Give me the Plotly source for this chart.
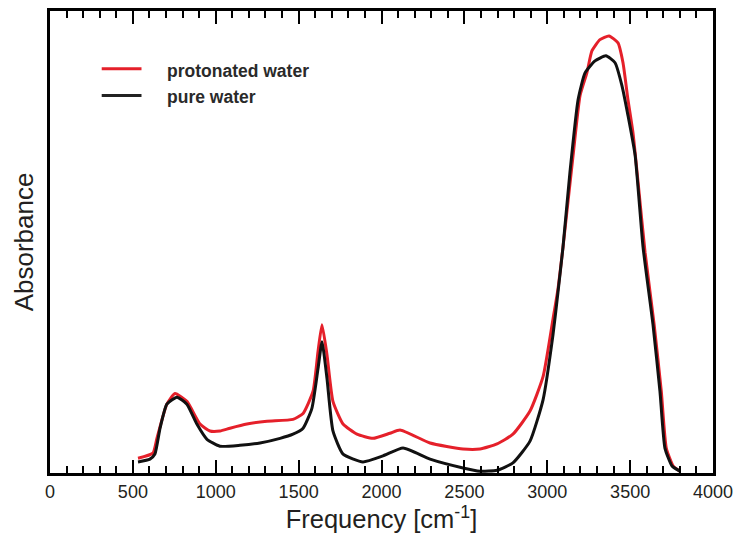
import plotly.graph_objects as go

# Frequency (cm^-1) and absorbance (normalized)
freq_prot = [531, 621, 645, 705, 754, 826, 905, 965, 1026, 1086, 1188, 1309, 1466, 1527,
             1587, 1617, 1641, 1671, 1707, 1768, 1852, 1949, 2051, 2112, 2293, 2492, 2594,
             2697, 2793, 2896, 2975, 3035, 3065, 3095, 3156, 3198, 3239, 3270, 3318, 3373,
             3427, 3457, 3487, 3517, 3548, 3590, 3645, 3688, 3718, 3760, 3800]
abs_prot = [0.032, 0.043, 0.075, 0.149, 0.172, 0.155, 0.106, 0.091, 0.091, 0.097, 0.106,
            0.112, 0.116, 0.129, 0.177, 0.263, 0.321, 0.256, 0.155, 0.106, 0.084, 0.075,
            0.086, 0.093, 0.065, 0.052, 0.052, 0.063, 0.084, 0.134, 0.209, 0.334, 0.399,
            0.489, 0.688, 0.817, 0.866, 0.914, 0.938, 0.946, 0.931, 0.888, 0.808, 0.737,
            0.629, 0.478, 0.321, 0.177, 0.054, 0.015, 0.004]

freq_pure = [531, 603, 633, 664, 705, 766, 826, 886, 947, 1025, 1146, 1267, 1388, 1466,
             1527, 1580, 1617, 1641, 1671, 1707, 1768, 1888, 2009, 2130, 2293, 2492, 2594,
             2697, 2793, 2896, 2975, 3035, 3065, 3095, 3137, 3186, 3228, 3288, 3354, 3409,
             3451, 3487, 3530, 3578, 3638, 3680, 3710, 3753, 3800]
abs_pure = [0.024, 0.030, 0.041, 0.097, 0.149, 0.164, 0.149, 0.106, 0.073, 0.058, 0.060,
            0.065, 0.075, 0.084, 0.097, 0.140, 0.226, 0.284, 0.205, 0.091, 0.041, 0.024,
            0.037, 0.054, 0.030, 0.011, 0.004, 0.006, 0.022, 0.069, 0.159, 0.300, 0.392,
            0.489, 0.651, 0.808, 0.866, 0.892, 0.903, 0.888, 0.838, 0.774, 0.688, 0.489,
            0.321, 0.177, 0.054, 0.015, 0.004]

x_ticks = [0, 500, 1000, 1500, 2000, 2500, 3000, 3500, 4000]
x_minor_step = 100
series_names = ["protonated water", "pure water"]

RED = "#e5202a"
BLACK = "#111111"
TEXT = "#231f20"
FONT = "Liberation Sans, Arial, sans-serif"

fig = go.Figure()
fig.add_trace(go.Scatter(x=freq_prot, y=abs_prot, mode="lines", name=series_names[0],
                         line=dict(color=RED, width=3, shape="spline", smoothing=0.5),
                         showlegend=False))
fig.add_trace(go.Scatter(x=freq_pure, y=abs_pure, mode="lines", name=series_names[1],
                         line=dict(color=BLACK, width=3, shape="spline", smoothing=0.5),
                         showlegend=False))

shapes = []
annotations = []

# legend (line samples + bold labels) in paper coordinates
legend_colors = [RED, "#222222"]
legend_y = [0.875, 0.817]
for name, col, ly in zip(series_names, legend_colors, legend_y):
    shapes.append(dict(type="line", xref="paper", yref="paper", x0=0.078, x1=0.138,
                       y0=ly, y1=ly, line=dict(color=col, width=3)))
    annotations.append(dict(xref="paper", yref="paper", x=0.173, y=ly - 0.004,
                            xanchor="left", yanchor="middle", showarrow=False, text=name,
                            font=dict(size=17.5, family=FONT, weight="bold", color="#2a2a2a")))

fig.update_layout(
    width=743, height=539,
    margin=dict(l=50, r=30, t=8, b=66),
    plot_bgcolor="white", paper_bgcolor="white",
    font=dict(family=FONT, color=TEXT),
    showlegend=False,
    shapes=shapes, annotations=annotations,
)
fig.update_layout(
    xaxis=dict(
        range=[0, 4000], tickvals=x_ticks, ticktext=[str(v) for v in x_ticks],
        ticks="inside", ticklen=13, tickwidth=2, tickcolor="black",
        minor=dict(ticks="inside", dtick=x_minor_step, ticklen=7, tickwidth=2, tickcolor="black"),
        showgrid=False, zeroline=False,
        showline=True, linecolor="black", linewidth=3, mirror="ticks",
        tickfont=dict(size=18, family=FONT, color=TEXT),
        title=dict(text="Frequency [cm<sup>-1</sup>]",
                   font=dict(size=25.5, family=FONT, color=TEXT), standoff=6),
    ),
    yaxis=dict(
        range=[0, 1.0], showticklabels=False, ticks="",
        showline=True, linecolor="black", linewidth=3, mirror=True,
        showgrid=False, zeroline=False,
        title=dict(text="Absorbance", font=dict(size=26, family=FONT, color=TEXT), standoff=6),
    ),
)

fig.write_html("out.html")
